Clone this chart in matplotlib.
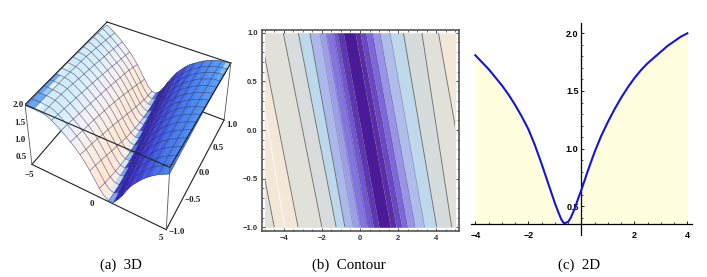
import numpy as np
import matplotlib
matplotlib.use('Agg')
import matplotlib.pyplot as plt
from matplotlib.colors import LinearSegmentedColormap
from matplotlib.patches import Rectangle
from matplotlib.ticker import MultipleLocator

W, H = 707, 277

# panel a: surface heights, one row per y, one column per x
surf_x = np.linspace(-5, 5, 31)
surf_y = np.linspace(-1, 1, 16)
surf_z = np.array([
    [2.02,2.03,2.03,2.02,2.02,1.99,1.93,1.85,1.76,1.67,1.56,1.45,1.32,1.17,.99,.80,.60,.44,.36,.37,.53,.72,.95,1.14,1.29,1.43,1.55,1.65,1.74,1.81,1.88],
    [2.02,2.03,2.03,2.02,2.01,1.98,1.90,1.82,1.73,1.63,1.52,1.40,1.26,1.10,.92,.73,.53,.39,.35,.42,.60,.81,1.02,1.21,1.35,1.48,1.60,1.68,1.76,1.84,1.90],
    [2.02,2.03,2.03,2.02,2.00,1.95,1.87,1.79,1.69,1.59,1.47,1.35,1.21,1.04,.85,.65,.47,.37,.36,.49,.67,.90,1.09,1.26,1.40,1.52,1.63,1.72,1.79,1.86,1.92],
    [2.03,2.03,2.02,2.01,1.99,1.92,1.84,1.75,1.65,1.54,1.43,1.30,1.15,.97,.78,.58,.42,.35,.39,.55,.75,.97,1.16,1.31,1.45,1.57,1.66,1.75,1.82,1.88,1.94],
    [2.03,2.03,2.02,2.01,1.97,1.89,1.81,1.72,1.61,1.50,1.39,1.25,1.08,.90,.70,.51,.38,.35,.44,.62,.84,1.04,1.22,1.36,1.49,1.61,1.69,1.77,1.85,1.91,1.95],
    [2.03,2.03,2.02,2.00,1.94,1.86,1.78,1.68,1.57,1.46,1.33,1.19,1.02,.83,.63,.45,.36,.36,.51,.69,.92,1.11,1.28,1.42,1.54,1.64,1.73,1.80,1.87,1.93,1.97],
    [2.03,2.02,2.01,1.99,1.91,1.83,1.74,1.64,1.53,1.42,1.28,1.13,.95,.75,.56,.41,.35,.41,.58,.78,.99,1.18,1.33,1.46,1.58,1.67,1.76,1.83,1.89,1.94,1.99],
    [2.03,2.02,2.00,1.96,1.88,1.80,1.71,1.60,1.49,1.37,1.23,1.06,.88,.68,.49,.38,.36,.46,.65,.87,1.06,1.24,1.38,1.51,1.62,1.71,1.78,1.85,1.91,1.96,2.00],
    [2.03,2.02,1.99,1.93,1.85,1.77,1.67,1.56,1.45,1.32,1.17,.99,.80,.60,.44,.36,.37,.53,.72,.95,1.13,1.29,1.43,1.55,1.65,1.74,1.81,1.88,1.93,1.97,2.01],
    [2.02,2.01,1.98,1.90,1.82,1.73,1.63,1.52,1.40,1.26,1.11,.93,.73,.53,.39,.35,.42,.60,.81,1.02,1.20,1.35,1.48,1.60,1.68,1.76,1.84,1.90,1.95,1.99,2.02],
    [2.02,2.00,1.95,1.87,1.79,1.69,1.59,1.47,1.35,1.21,1.04,.85,.65,.47,.37,.36,.48,.67,.89,1.09,1.26,1.40,1.52,1.63,1.72,1.79,1.86,1.92,1.96,2.00,2.03],
    [2.02,1.99,1.92,1.84,1.75,1.65,1.55,1.43,1.30,1.15,.97,.78,.58,.42,.35,.39,.55,.75,.97,1.16,1.31,1.45,1.57,1.66,1.75,1.82,1.88,1.94,1.98,2.01,2.03],
    [2.01,1.97,1.89,1.81,1.72,1.61,1.50,1.39,1.25,1.08,.90,.70,.51,.39,.35,.44,.62,.84,1.04,1.22,1.36,1.49,1.61,1.69,1.77,1.85,1.91,1.95,2.00,2.02,2.03],
    [2.00,1.94,1.86,1.78,1.68,1.57,1.46,1.34,1.20,1.02,.83,.63,.45,.37,.36,.51,.69,.92,1.11,1.27,1.41,1.54,1.64,1.73,1.80,1.87,1.93,1.97,2.01,2.03,2.03],
    [1.99,1.91,1.83,1.74,1.64,1.53,1.42,1.28,1.13,.95,.75,.56,.41,.35,.40,.57,.78,.99,1.18,1.33,1.46,1.58,1.67,1.75,1.83,1.89,1.94,1.98,2.01,2.03,2.04],
    [1.96,1.88,1.80,1.71,1.60,1.49,1.37,1.23,1.06,.88,.68,.49,.38,.36,.46,.64,.86,1.06,1.24,1.38,1.51,1.62,1.70,1.78,1.85,1.91,1.96,2.00,2.02,2.03,2.04],
])
z_low, z_high = 0.33, 2.05

# panel b: where each contour edge meets the top (y=1) and bottom (y=-1)
edge_top = [-6.5,-5.25,-4.03,-3.24,-2.63,-2.1,-1.79,-1.40,-1.2,-.88,-.26,0,.3,.65,1.05,1.58,2.28,3.25,4.12]
edge_bottom = [-4.5,-3.25,-2.0,-1.25,-.79,-.35,0,.38,.7,1.0,1.6,1.9,2.2,2.5,2.9,3.4,4.03,4.82,5.95]
band_colors = ['#e2e1da','#f3e8d8','#e2e1d9','#d8dcdc','#bcd8ea','#acb8ec','#9c9eea','#8474e0','#7058d0','#5c36b4',
               '#4a1a98','#5a2cac','#6a48c4','#7c68da','#9a94e8','#b0bcec','#c0d8ec','#d6dcdc','#e2e1d9','#f3e8d8']

# panel c: curve
curve_x = [-4,-3.75,-3.5,-3.25,-3,-2.75,-2.5,-2.25,-2,-1.75,-1.5,-1.25,-1,-.85,-.75,-.65,-.5,-.4,-.25,-.1,0,.25,.5,.75,1,1.25,1.5,1.75,2,2.25,2.5,2.75,3,3.25,3.5,3.75,4]
curve_y = [1.81,1.75,1.69,1.62,1.55,1.47,1.38,1.28,1.17,1.03,.87,.70,.53,.44,.385,.352,.365,.40,.48,.58,.64,.81,.97,1.11,1.23,1.34,1.44,1.53,1.61,1.68,1.74,1.79,1.84,1.89,1.93,1.97,2.0]

# surface colours along the skew coordinate u = x + 0.935 y - 0.365
color_stops = [(-6.4,'#5f9cf0'),(-5.62,'#6ca8f4'),(-5.5,'#f0f8ff'),(-5.3,'#cdeafb'),(-4,'#d8eefb'),(-3,'#f2f2fb'),
               (-2,'#fbeee4'),(-1,'#fde6d4'),(-.5,'#fbeee8'),(-.25,'#d0e4fa'),(-.1,'#70a0f0'),(0,'#3a3ad8'),
               (.3,'#3020b0'),(1,'#4030d0'),(2,'#4050e0'),(3,'#4575ea'),(4,'#4d8bf2'),(5,'#5aa0f5'),(5.3,'#a0d0f8'),(5.7,'#e8f4ff')]


def box(left, top, right, bottom):
    return [left/W, 1-bottom/H, (right-left)/W, (bottom-top)/H]


def label(x, y, s, **kw):
    fig.text(x/W, 1-y/H, s, ha='center', va='center', **kw)


fig = plt.figure(figsize=(W/100, H/100), dpi=100)

# --- (a) 3D ---
ax = fig.add_subplot(projection='3d', computed_zorder=False)
ax.set_xlim(-5, 5)
ax.set_ylim(-1, 1)
ax.set_zlim(z_low, z_high)
ax.view_init(36.31, -62.293, -0.727)
ax.set_box_aspect((4.063, 4.12, 1.635))
ax.set_proj_type('persp', focal_length=0.445)
ax.set_axis_off()
ax.patch.set_alpha(0)
# picture is squeezed sideways, so keep a non square axes box
sx, tx, sy, ty = 1132.095, 132.985, 1397.142, 112.914
xl, yl = ax.viewLim.intervalx, ax.viewLim.intervaly
ax.set_position(box(sx*xl[0]+tx, -sy*yl[1]+ty, sx*xl[1]+tx, -sy*yl[0]+ty))
ax.apply_aspect = lambda position=None: None

X, Y = np.meshgrid(surf_x, surf_y)
u_lo, u_hi = color_stops[0][0], color_stops[-1][0]
cmap = LinearSegmentedColormap.from_list('surf', [((u-u_lo)/(u_hi-u_lo), c) for u, c in color_stops], N=512)
shade = cmap((X + 0.935*Y - 0.365 + 1/6 - u_lo)/(u_hi-u_lo))

edge = dict(color='#222222', lw=0.8)
for a, b in [((-5,-1),(5,-1)), ((5,-1),(5,1)), ((5,1),(-5,1)), ((-5,1),(-5,-1))]:
    ax.plot([a[0],b[0]], [a[1],b[1]], [z_low,z_low], zorder=1, **edge)
surf = ax.plot_surface(X, Y, surf_z, facecolors=shade, rstride=1, cstride=1, shade=False,
                       linewidth=0.25, antialiased=True, zorder=2)
surf.set_edgecolor(surf._facecolor3d)  # hides the seams between faces
ax.plot_wireframe(X, Y, surf_z, rstride=1, cstride=2, color='#26264a', lw=0.5, alpha=0.6, zorder=3)
for a, b in [((-5,-1),(5,-1)), ((5,-1),(5,1)), ((5,1),(-5,1)), ((-5,1),(-5,-1))]:
    ax.plot([a[0],b[0]], [a[1],b[1]], [z_high,z_high], zorder=4, **edge)
for cx, cy in [(-5,-1), (5,-1), (5,1)]:
    ax.plot([cx,cx], [cy,cy], [z_low,z_high], zorder=4, color='#555555', lw=0.6)

tick_font = dict(family='Liberation Serif', fontsize=6.5, fontweight='bold', color='#222222')
for x, y, t in [(18,105,'2.0'), (20,123,'1.5'), (20,140,'1.0'), (21,157,'0.5'), (29,175,'\u22125'), (92,204,'0'), (161,238,'5'),
                (177,232,'\u22121.0'), (193,200,'\u22120.5'), (204,173,'0.0'), (218,148,'0.5'), (232,125,'1.0')]:
    label(x, y, t, **tick_font)

# --- (b) Contour ---
ax2 = fig.add_axes(box(262, 30, 459, 231))
ax2.set_xlim(-5.147, 5.2)
ax2.set_ylim(-1.038, 1.028)
rows = [-1, 1]
clip = Rectangle((-5, -1), 10, 2, transform=ax2.transData)
lefts = [(-9, -9)] + list(zip(edge_bottom, edge_top))
rights = list(zip(edge_bottom, edge_top)) + [(9, 9)]
for l, r, c in zip(lefts, rights, band_colors):
    ax2.fill_betweenx(rows, l, r, color=c, lw=0).set_clip_path(clip)
for b, t, c in zip(edge_bottom, edge_top, band_colors):
    # the lines fade out over the dark middle bands
    a = 0.7 if c in band_colors[:5] or c in band_colors[16:] else 0.3
    ax2.plot([b, t], rows, color='#4a4a4a', lw=0.7, alpha=a)[0].set_clip_path(clip)
ax2.plot([-3.95, -4.95], [-1, 0.15], color='white', lw=0.7, alpha=0.8)
ax2.set_xticks([-4, -2, 0, 2, 4], ['\u22124', '\u22122', '0', '2', '4'])
ax2.set_yticks([-1, -.5, 0, .5, 1], ['\u22121.0', '\u22120.5', '0.0', '0.5', '1.0'])
ax2.xaxis.set_minor_locator(MultipleLocator(0.5))
ax2.yaxis.set_minor_locator(MultipleLocator(0.1))
ax2.tick_params(which='major', direction='in', length=2.5, width=0.6, top=True, right=True, labelsize=5.5, pad=3, color='#333333')
ax2.tick_params(which='minor', direction='in', length=1.3, width=0.5, top=True, right=True, color='#333333')
for t in ax2.get_xticklabels() + ax2.get_yticklabels():
    t.set_family('Liberation Sans')
    t.set_fontweight('bold')
    t.set_color('#333333')
for sp in ax2.spines.values():
    sp.set_color('#555555')
    sp.set_linewidth(1.2)

# --- (c) 2D ---
ax3 = fig.add_axes(box(471, 22.7, 691.7, 224))
ax3.set_xlim(-4.162, 4.166)
ax3.set_ylim(0.347, 2.092)
ax3.fill_between(curve_x, curve_y, 0.347, color='#ffffe0', lw=0)
ax3.plot(curve_x, curve_y, color='#1414e0', lw=1.5, clip_on=False, zorder=3, solid_joinstyle='round')
for side in ('top', 'right'):
    ax3.spines[side].set_visible(False)
ax3.spines['left'].set_position(('data', 0))
ax3.spines['left'].set_linewidth(0.9)
ax3.spines['bottom'].set_linewidth(0.9)
ax3.plot([0, 0], [0.252, 0.347], color='black', lw=0.9, clip_on=False)
ax3.set_xticks([-4, -2, 2, 4], ['\u22124', '\u22122', '2', '4'])
ax3.set_yticks([.5, 1, 1.5, 2], ['0.5', '1.0', '1.5', '2.0'])
ax3.xaxis.set_minor_locator(MultipleLocator(0.5))
ax3.yaxis.set_minor_locator(MultipleLocator(0.1))
ax3.tick_params(which='major', direction='in', length=2.5, width=0.6, labelsize=6.5, pad=5)
ax3.tick_params(axis='y', which='major', pad=2)
ax3.tick_params(which='minor', direction='in', length=1.3, width=0.5)
for t in ax3.get_xticklabels() + ax3.get_yticklabels():
    t.set_family('Liberation Sans')
    t.set_fontweight('bold')

# captions
for x, t in [(121, '(a)  3D'), (348.5, '(b)  Contour'), (579, '(c)  2D')]:
    label(x, 265, t, family='Liberation Serif', fontsize=10.7)

fig.savefig('out.png', dpi=100)
